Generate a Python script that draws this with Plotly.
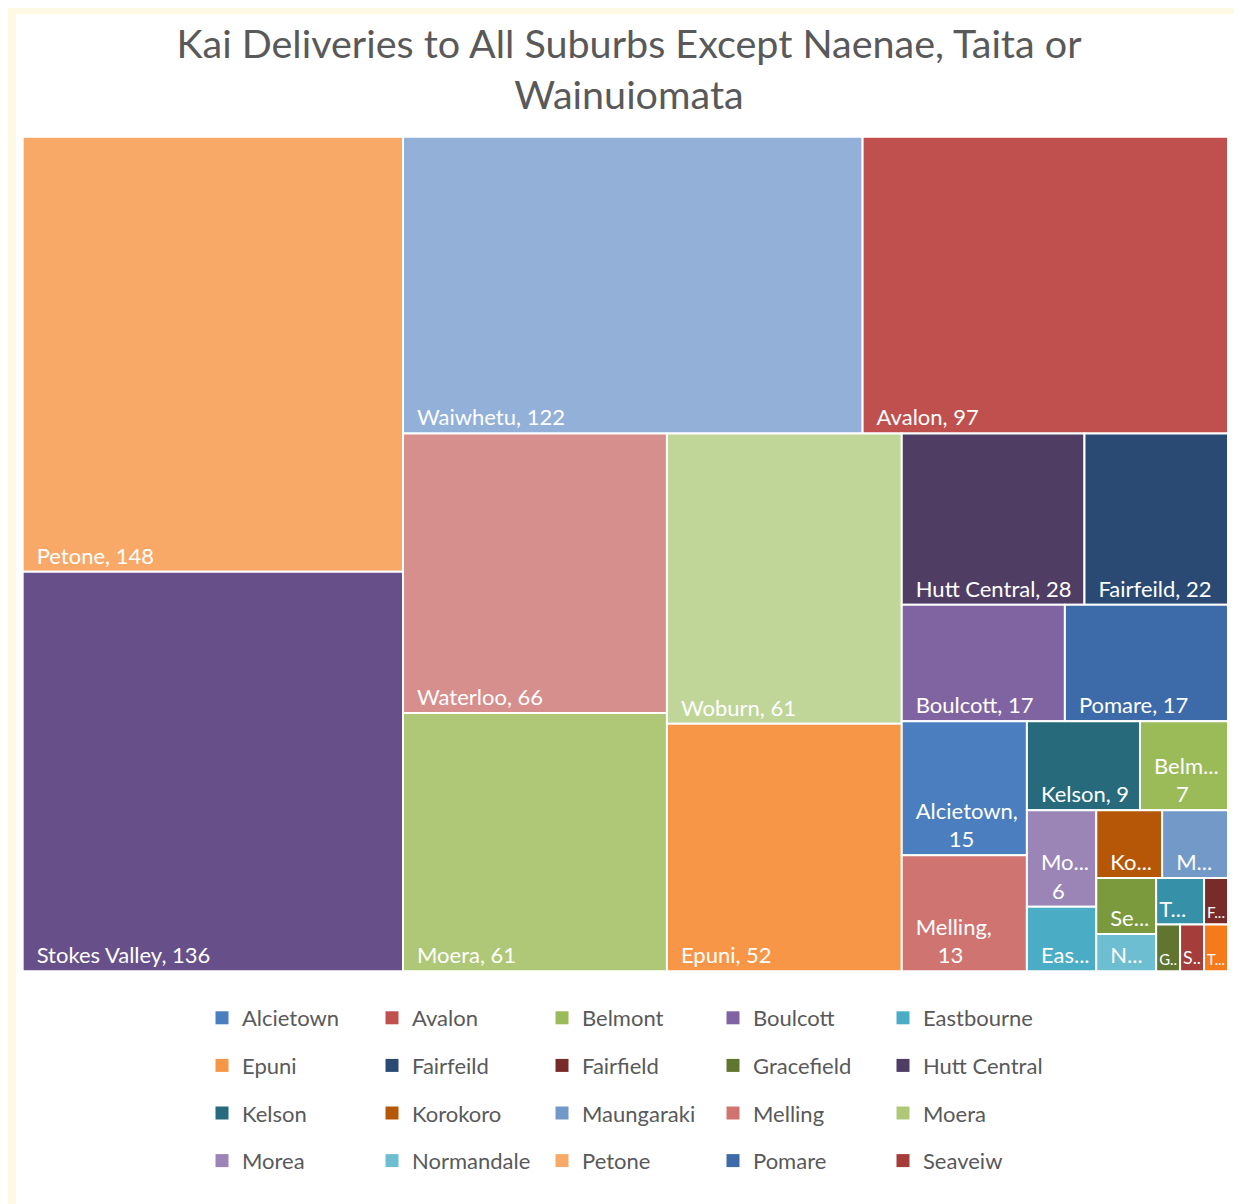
import plotly.graph_objects as go

# ---- data ----
suburbs = ["Alcietown", "Avalon", "Belmont", "Boulcott", "Eastbourne", "Epuni",
           "Fairfeild", "Fairfield", "Gracefield", "Hutt Central", "Kelson",
           "Korokoro", "Maungaraki", "Melling", "Moera", "Morea", "Normandale",
           "Petone", "Pomare", "Seaveiw", "Seaview", "Stokes Valley",
           "Tirohanga", "Totara Park", "Waiwhetu", "Waterloo", "Woburn"]
deliveries = [15, 97, 7, 17, 4, 52, 22, 1, 1, 28, 9, 4, 4, 13, 61, 6, 2,
              148, 17, 1, 3, 136, 2, 1, 122, 66, 61]
colors = ["#4a7ebf", "#c0504d", "#9bbb59", "#8064a2", "#4bacc6", "#f79646",
          "#2a4a74", "#772c2a", "#5f7530", "#4f3d64", "#276a7c", "#b65708",
          "#7399c8", "#cf7471", "#aec878", "#9a85b6", "#6ebed2", "#f8a968",
          "#3d6aa8", "#a53d3a", "#7a9a3d", "#674f89", "#3590a8", "#f47a1c",
          "#92b0d8", "#d78f8d", "#c0d699"]
# labels as wrapped / truncated in the small tiles of the reference
wrapped_names = {"Alcietown": "Alcietown,", "Melling": "Melling,",
                 "Belmont": "Belm...", "Morea": "Mo..."}
truncated_names = {"Korokoro": "Ko...", "Maungaraki": "M...", "Seaview": "Se...",
                   "Eastbourne": "Eas...", "Normandale": "N...", "Tirohanga": "T...",
                   "Fairfield": "F...", "Gracefield": "G..", "Seaveiw": "S..",
                   "Totara Park": "T..."}
legend_count = 20  # legend in the reference shows the first 20 entries

W, H = 1242, 1204
FONT = "Lato"
SP = "\u2002"  # en space used as inner padding
value_indent = {"Alcietown": 4, "Melling": 3, "Belmont": 3, "Morea": 2}
tiny = {"Tirohanga", "Fairfield", "Gracefield", "Seaveiw", "Totara Park"}

tile_text = []
for name, v in zip(suburbs, deliveries):
    if name in wrapped_names:
        tile_text.append(SP + wrapped_names[name] + "<br>" + SP * value_indent[name] + str(v))
    elif name in truncated_names:
        tile_text.append(("" if name in tiny else SP) + truncated_names[name])
    else:
        tile_text.append(SP + name + ", " + str(v))

fig = go.Figure()
fig.add_trace(go.Treemap(
    labels=suburbs,
    parents=[""] * len(suburbs),
    values=deliveries,
    text=tile_text,
    sort=True,
    marker=dict(colors=colors, line=dict(color="white", width=2)),
    tiling=dict(packing="squarify", squarifyratio=1, pad=0),
    texttemplate="%{text}",
    textposition="bottom left",
    textfont=dict(family=FONT, size=22, color="white"),
    hoverinfo="label+value",
    domain=dict(x=[0.00295, 0.99116], y=[0.1634, 0.90212]),
    pathbar=dict(visible=False),
))

legend_names = ["legend", "legend2", "legend3", "legend4", "legend5"]
for i in range(legend_count):
    fig.add_trace(go.Scatter(
        x=[None], y=[None], mode="markers", name=suburbs[i],
        marker=dict(symbol="square", size=13, color=colors[i]),
        legend=legend_names[i % 5], legendgroup=suburbs[i], showlegend=True,
    ))

col_x = [194, 364, 534, 705, 875]
legend_layout = {}
for k, ln in enumerate(legend_names):
    legend_layout[ln] = dict(
        orientation="v", x=col_x[k] / W, xanchor="left",
        y=1 - 989 / H, yanchor="top", tracegroupgap=16,
        font=dict(family=FONT, size=22, color="#595959"),
        bgcolor="rgba(0,0,0,0)", itemclick=False, itemdoubleclick=False,
    )

fig.update_layout(
    width=W, height=H,
    margin=dict(l=0, r=0, t=0, b=0, autoexpand=False),
    paper_bgcolor="#fdf9e2", plot_bgcolor="rgba(0,0,0,0)",
    title=dict(text="Kai Deliveries to All Suburbs Except Naenae, Taita or<br>Wainuiomata",
               x=0.5, xanchor="center", y=1 - 50 / H, yanchor="top",
               font=dict(family=FONT, size=39.5, color="#595959")),
    xaxis=dict(visible=False), yaxis=dict(visible=False),
    shapes=[dict(type="rect", xref="paper", yref="paper", x0=8 / W, x1=1239 / W,
                 y0=0, y1=1 - 6 / H, line=dict(width=0), fillcolor="white",
                 layer="below")],
    **legend_layout,
)

fig.write_html("out.html")
